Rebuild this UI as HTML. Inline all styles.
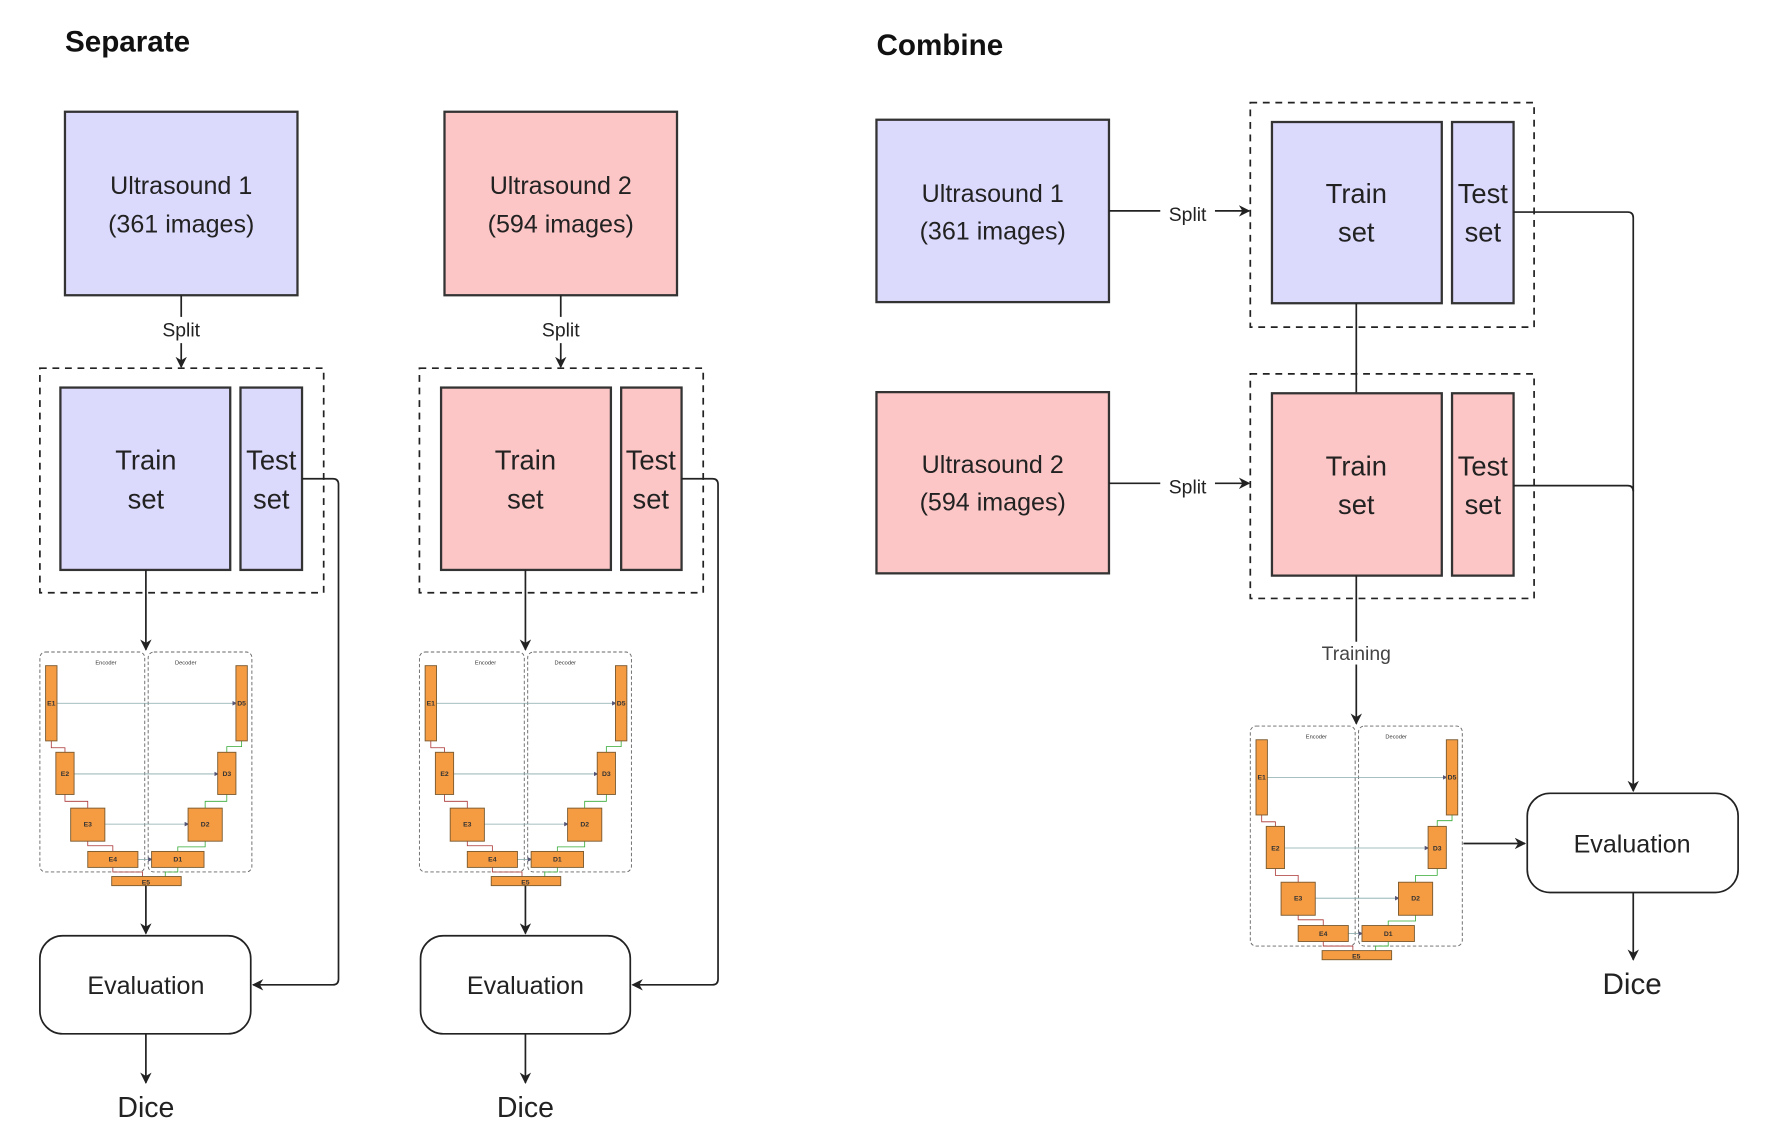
<!DOCTYPE html>
<html><head><meta charset="utf-8"><style>html,body{margin:0;padding:0;background:#fff}svg{display:block}</style></head>
<body>
<svg width="1778" height="1141" viewBox="0 0 1560 1001" xmlns="http://www.w3.org/2000/svg" font-family="Liberation Sans, DejaVu Sans, sans-serif">
<defs>
<marker id="ar" markerWidth="10" markerHeight="10" refX="9" refY="5" orient="auto" markerUnits="userSpaceOnUse"><path d="M0,0 L10,5 L0,10 L3,5 z" fill="#222"/></marker>
<marker id="sa" markerWidth="4" markerHeight="4" refX="3" refY="2" orient="auto" markerUnits="userSpaceOnUse"><path d="M0,0 L4,2 L0,4 z" fill="#557"/></marker>
<g id="unet">
  <rect x="0" y="0" width="92" height="193" rx="5" fill="none" stroke="#666" stroke-width="0.8" stroke-dasharray="3,2"/>
  <rect x="95" y="0" width="91" height="193" rx="5" fill="none" stroke="#666" stroke-width="0.8" stroke-dasharray="3,2"/>
  <text x="58" y="11" font-size="5" text-anchor="middle" fill="#333">Encoder</text>
  <text x="128" y="11" font-size="5" text-anchor="middle" fill="#333">Decoder</text>
  <g stroke="#8aa" stroke-width="0.7" fill="none">
    <line x1="15" y1="45" x2="172" y2="45" marker-end="url(#sa)"/>
    <line x1="30" y1="107" x2="156" y2="107" marker-end="url(#sa)"/>
    <line x1="57" y1="151" x2="130" y2="151" marker-end="url(#sa)"/>
    <line x1="86" y1="182" x2="98" y2="182" marker-end="url(#sa)"/>
  </g>
  <g stroke="#a33" stroke-width="0.7" fill="none">
    <polyline points="10,78 10,84 22,84 22,88"/>
    <polyline points="22,125 22,131 42,131 42,137"/>
    <polyline points="42,166 42,170 64,170 64,175"/>
    <polyline points="64,189 64,193 90,193 90,197"/>
  </g>
  <g stroke="#3a3" stroke-width="0.7" fill="none">
    <polyline points="110,197 110,193 121,193 121,189"/>
    <polyline points="121,175 121,171 145,171 145,166"/>
    <polyline points="145,137 145,131 164,131 164,125"/>
    <polyline points="164,88 164,83 177,83 177,78"/>
  </g>
  <g fill="#f59b42" stroke="#7a5a30" stroke-width="0.8">
    <rect x="5" y="12" width="10" height="66"/>
    <rect x="14" y="88" width="16" height="37"/>
    <rect x="27" y="137" width="30" height="29"/>
    <rect x="42" y="175" width="44" height="14"/>
    <rect x="63" y="197" width="61" height="8"/>
    <rect x="98" y="175" width="46" height="14"/>
    <rect x="130" y="137" width="30" height="29"/>
    <rect x="156" y="88" width="16" height="37"/>
    <rect x="172" y="12" width="10" height="66"/>
  </g>
  <g font-size="6" font-weight="bold" fill="#333" text-anchor="middle">
    <text x="10" y="47">E1</text><text x="22" y="109">E2</text><text x="42" y="153">E3</text>
    <text x="64" y="184">E4</text><text x="93" y="204">E5</text><text x="121" y="184">D1</text>
    <text x="145" y="153">D2</text><text x="164" y="109">D3</text><text x="177" y="47">D5</text>
  </g>
</g>
</defs>

<text x="57" y="45" font-size="26" font-weight="bold" fill="#111">Separate</text>
<text x="769" y="48" font-size="26" font-weight="bold" fill="#111">Combine</text>

<g id="col1">
<rect x="57" y="98" width="204" height="161" fill="#dcdafc" stroke="#333" stroke-width="2"/>
<text x="159" y="170" font-size="22" text-anchor="middle" fill="#222">Ultrasound 1</text>
<text x="159" y="204" font-size="22" text-anchor="middle" fill="#222">(361 images)</text>
<line x1="159" y1="259" x2="159" y2="278" stroke="#222" stroke-width="1.5"/>
<text x="159" y="295" font-size="17" text-anchor="middle" fill="#222">Split</text>
<line x1="159" y1="301" x2="159" y2="322" stroke="#222" stroke-width="1.5" marker-end="url(#ar)"/>
<rect x="35" y="323" width="249" height="197" fill="none" stroke="#222" stroke-width="1.5" stroke-dasharray="6,5"/>
<rect x="53" y="340" width="149" height="160" fill="#dcdafc" stroke="#333" stroke-width="2"/>
<rect x="211" y="340" width="54" height="160" fill="#dcdafc" stroke="#333" stroke-width="2"/>
<text x="128" y="412" font-size="24" text-anchor="middle" fill="#222">Train</text>
<text x="128" y="446" font-size="24" text-anchor="middle" fill="#222">set</text>
<text x="238" y="412" font-size="24" text-anchor="middle" fill="#222">Test</text>
<text x="238" y="446" font-size="24" text-anchor="middle" fill="#222">set</text>
<path d="M265,420 H292 Q297,420 297,425 V859 Q297,864 292,864 H222" fill="none" stroke="#222" stroke-width="1.5" marker-end="url(#ar)"/>
<line x1="128" y1="500" x2="128" y2="570" stroke="#222" stroke-width="1.5" marker-end="url(#ar)"/>
<use href="#unet" x="35" y="572"/>
<line x1="128" y1="777" x2="128" y2="819" stroke="#222" stroke-width="1.5" marker-end="url(#ar)"/>
<rect x="35" y="821" width="185" height="86" rx="20" fill="#fff" stroke="#222" stroke-width="1.5"/>
<text x="128" y="872" font-size="22" text-anchor="middle" fill="#222">Evaluation</text>
<line x1="128" y1="907" x2="128" y2="950" stroke="#222" stroke-width="1.5" marker-end="url(#ar)"/>
<text x="128" y="980" font-size="25" text-anchor="middle" fill="#222">Dice</text>
</g>

<g>
<rect x="390" y="98" width="204" height="161" fill="#fcc6c6" stroke="#333" stroke-width="2"/>
<text x="492" y="170" font-size="22" text-anchor="middle" fill="#222">Ultrasound 2</text>
<text x="492" y="204" font-size="22" text-anchor="middle" fill="#222">(594 images)</text>
<line x1="492" y1="259" x2="492" y2="278" stroke="#222" stroke-width="1.5"/>
<text x="492" y="295" font-size="17" text-anchor="middle" fill="#222">Split</text>
<line x1="492" y1="301" x2="492" y2="322" stroke="#222" stroke-width="1.5" marker-end="url(#ar)"/>
<rect x="368" y="323" width="249" height="197" fill="none" stroke="#222" stroke-width="1.5" stroke-dasharray="6,5"/>
<rect x="387" y="340" width="149" height="160" fill="#fcc6c6" stroke="#333" stroke-width="2"/>
<rect x="545" y="340" width="53" height="160" fill="#fcc6c6" stroke="#333" stroke-width="2"/>
<text x="461" y="412" font-size="24" text-anchor="middle" fill="#222">Train</text>
<text x="461" y="446" font-size="24" text-anchor="middle" fill="#222">set</text>
<text x="571" y="412" font-size="24" text-anchor="middle" fill="#222">Test</text>
<text x="571" y="446" font-size="24" text-anchor="middle" fill="#222">set</text>
<path d="M598,420 H625 Q630,420 630,425 V859 Q630,864 625,864 H555" fill="none" stroke="#222" stroke-width="1.5" marker-end="url(#ar)"/>
<line x1="461" y1="500" x2="461" y2="570" stroke="#222" stroke-width="1.5" marker-end="url(#ar)"/>
<use href="#unet" x="368" y="572"/>
<line x1="461" y1="777" x2="461" y2="819" stroke="#222" stroke-width="1.5" marker-end="url(#ar)"/>
<rect x="369" y="821" width="184" height="86" rx="20" fill="#fff" stroke="#222" stroke-width="1.5"/>
<text x="461" y="872" font-size="22" text-anchor="middle" fill="#222">Evaluation</text>
<line x1="461" y1="907" x2="461" y2="950" stroke="#222" stroke-width="1.5" marker-end="url(#ar)"/>
<text x="461" y="980" font-size="25" text-anchor="middle" fill="#222">Dice</text>
</g>

<g>
<rect x="769" y="105" width="204" height="160" fill="#dcdafc" stroke="#333" stroke-width="2"/>
<text x="871" y="177" font-size="22" text-anchor="middle" fill="#222">Ultrasound 1</text>
<text x="871" y="210" font-size="22" text-anchor="middle" fill="#222">(361 images)</text>
<line x1="973" y1="185" x2="1096" y2="185" stroke="#222" stroke-width="1.5" marker-end="url(#ar)"/>
<rect x="1018" y="174" width="48" height="22" fill="#fff"/>
<text x="1042" y="194" font-size="17" text-anchor="middle" fill="#222">Split</text>
<rect x="1097" y="90" width="249" height="197" fill="none" stroke="#222" stroke-width="1.5" stroke-dasharray="6,5"/>
<rect x="1116" y="107" width="149" height="159" fill="#dcdafc" stroke="#333" stroke-width="2"/>
<rect x="1274" y="107" width="54" height="159" fill="#dcdafc" stroke="#333" stroke-width="2"/>
<text x="1190" y="178" font-size="24" text-anchor="middle" fill="#222">Train</text>
<text x="1190" y="212" font-size="24" text-anchor="middle" fill="#222">set</text>
<text x="1301" y="178" font-size="24" text-anchor="middle" fill="#222">Test</text>
<text x="1301" y="212" font-size="24" text-anchor="middle" fill="#222">set</text>

<rect x="769" y="344" width="204" height="159" fill="#fcc6c6" stroke="#333" stroke-width="2"/>
<text x="871" y="415" font-size="22" text-anchor="middle" fill="#222">Ultrasound 2</text>
<text x="871" y="448" font-size="22" text-anchor="middle" fill="#222">(594 images)</text>
<line x1="973" y1="424" x2="1096" y2="424" stroke="#222" stroke-width="1.5" marker-end="url(#ar)"/>
<rect x="1018" y="413" width="48" height="22" fill="#fff"/>
<text x="1042" y="433" font-size="17" text-anchor="middle" fill="#222">Split</text>
<rect x="1097" y="328" width="249" height="197" fill="none" stroke="#222" stroke-width="1.5" stroke-dasharray="6,5"/>
<line x1="1190" y1="266" x2="1190" y2="345" stroke="#222" stroke-width="1.5"/>
<rect x="1116" y="345" width="149" height="160" fill="#fcc6c6" stroke="#333" stroke-width="2"/>
<rect x="1274" y="345" width="54" height="160" fill="#fcc6c6" stroke="#333" stroke-width="2"/>
<text x="1190" y="417" font-size="24" text-anchor="middle" fill="#222">Train</text>
<text x="1190" y="451" font-size="24" text-anchor="middle" fill="#222">set</text>
<text x="1301" y="417" font-size="24" text-anchor="middle" fill="#222">Test</text>
<text x="1301" y="451" font-size="24" text-anchor="middle" fill="#222">set</text>

<line x1="1190" y1="505" x2="1190" y2="635" stroke="#222" stroke-width="1.5" marker-end="url(#ar)"/>
<rect x="1155" y="563" width="70" height="20" fill="#fff"/>
<text x="1190" y="579" font-size="17" text-anchor="middle" fill="#444">Training</text>
<path d="M1328,186 H1428 Q1433,186 1433,191 V694" fill="none" stroke="#222" stroke-width="1.5" marker-end="url(#ar)"/>
<path d="M1328,426 H1428 Q1433,426 1433,431" fill="none" stroke="#222" stroke-width="1.5"/>
<use href="#unet" x="1097" y="637"/>
<line x1="1284" y1="740" x2="1338" y2="740" stroke="#222" stroke-width="1.5" marker-end="url(#ar)"/>
<rect x="1340" y="696" width="185" height="87" rx="20" fill="#fff" stroke="#222" stroke-width="1.5"/>
<text x="1432" y="748" font-size="22" text-anchor="middle" fill="#222">Evaluation</text>
<line x1="1433" y1="783" x2="1433" y2="842" stroke="#222" stroke-width="1.5" marker-end="url(#ar)"/>
<text x="1432" y="872" font-size="26" text-anchor="middle" fill="#222">Dice</text>
</g>
</svg>
</body></html>
